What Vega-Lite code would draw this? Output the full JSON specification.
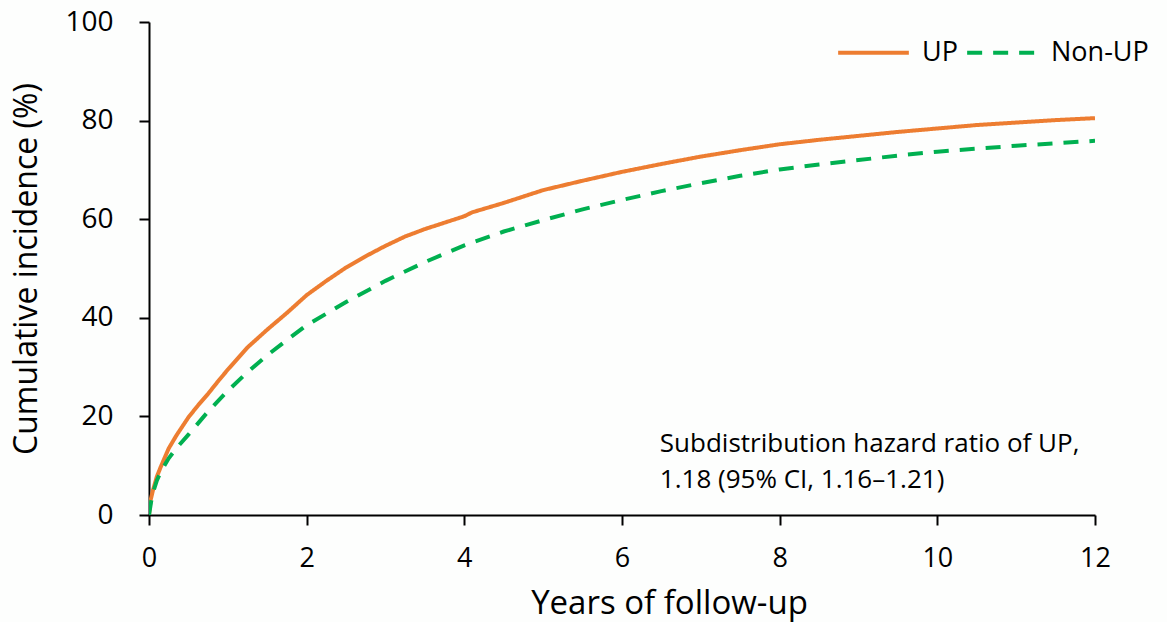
{
  "$schema": "https://vega.github.io/schema/vega-lite/v6.json",
  "width": 946,
  "height": 493,
  "autosize": {"type": "none"},
  "padding": {"left": 149, "top": 22, "right": 72, "bottom": 107},
  "background": "#fdfefd",
  "config": {
    "font": "Open Sans",
    "view": {"stroke": null},
    "axis": {"grid": false, "domainColor": "#000", "tickColor": "#000", "domainWidth": 2, "tickWidth": 2, "tickSize": 10, "labelColor": "#000", "titleColor": "#000", "labelFont": "Open Sans", "titleFont": "Open Sans", "titleFontWeight": "normal"}
  },
  "data": {"values": [
    {"t": 0, "v": 0, "g": "UP"},
    {"t": 0.02, "v": 3, "g": "UP"},
    {"t": 0.05, "v": 5, "g": "UP"},
    {"t": 0.1, "v": 7.8, "g": "UP"},
    {"t": 0.15, "v": 9.8, "g": "UP"},
    {"t": 0.25, "v": 13.5, "g": "UP"},
    {"t": 0.35, "v": 16.2, "g": "UP"},
    {"t": 0.5, "v": 19.8, "g": "UP"},
    {"t": 0.625, "v": 22.3, "g": "UP"},
    {"t": 0.75, "v": 24.6, "g": "UP"},
    {"t": 0.875, "v": 27.1, "g": "UP"},
    {"t": 1, "v": 29.5, "g": "UP"},
    {"t": 1.25, "v": 34, "g": "UP"},
    {"t": 1.5, "v": 37.6, "g": "UP"},
    {"t": 1.75, "v": 41, "g": "UP"},
    {"t": 2, "v": 44.6, "g": "UP"},
    {"t": 2.25, "v": 47.5, "g": "UP"},
    {"t": 2.5, "v": 50.2, "g": "UP"},
    {"t": 2.75, "v": 52.5, "g": "UP"},
    {"t": 3, "v": 54.6, "g": "UP"},
    {"t": 3.25, "v": 56.5, "g": "UP"},
    {"t": 3.5, "v": 58, "g": "UP"},
    {"t": 3.75, "v": 59.3, "g": "UP"},
    {"t": 4, "v": 60.6, "g": "UP"},
    {"t": 4.1, "v": 61.4, "g": "UP"},
    {"t": 4.5, "v": 63.3, "g": "UP"},
    {"t": 4.75, "v": 64.6, "g": "UP"},
    {"t": 5, "v": 65.9, "g": "UP"},
    {"t": 5.5, "v": 67.8, "g": "UP"},
    {"t": 6, "v": 69.6, "g": "UP"},
    {"t": 6.5, "v": 71.2, "g": "UP"},
    {"t": 7, "v": 72.7, "g": "UP"},
    {"t": 7.5, "v": 74, "g": "UP"},
    {"t": 8, "v": 75.2, "g": "UP"},
    {"t": 8.5, "v": 76.1, "g": "UP"},
    {"t": 9, "v": 76.9, "g": "UP"},
    {"t": 9.5, "v": 77.7, "g": "UP"},
    {"t": 10, "v": 78.4, "g": "UP"},
    {"t": 10.5, "v": 79.1, "g": "UP"},
    {"t": 11, "v": 79.6, "g": "UP"},
    {"t": 11.5, "v": 80.1, "g": "UP"},
    {"t": 12, "v": 80.5, "g": "UP"},
    {"t": 0, "v": 0, "g": "Non-UP"},
    {"t": 0.03, "v": 3, "g": "Non-UP"},
    {"t": 0.06, "v": 5, "g": "Non-UP"},
    {"t": 0.1, "v": 7, "g": "Non-UP"},
    {"t": 0.15, "v": 8.8, "g": "Non-UP"},
    {"t": 0.25, "v": 11.5, "g": "Non-UP"},
    {"t": 0.35, "v": 13.6, "g": "Non-UP"},
    {"t": 0.5, "v": 16.3, "g": "Non-UP"},
    {"t": 0.75, "v": 21, "g": "Non-UP"},
    {"t": 1, "v": 25.2, "g": "Non-UP"},
    {"t": 1.25, "v": 29, "g": "Non-UP"},
    {"t": 1.5, "v": 32.4, "g": "Non-UP"},
    {"t": 1.75, "v": 35.5, "g": "Non-UP"},
    {"t": 2, "v": 38.5, "g": "Non-UP"},
    {"t": 2.5, "v": 43.2, "g": "Non-UP"},
    {"t": 3, "v": 47.5, "g": "Non-UP"},
    {"t": 3.5, "v": 51.3, "g": "Non-UP"},
    {"t": 4, "v": 54.7, "g": "Non-UP"},
    {"t": 4.5, "v": 57.5, "g": "Non-UP"},
    {"t": 5, "v": 59.8, "g": "Non-UP"},
    {"t": 5.5, "v": 62, "g": "Non-UP"},
    {"t": 6, "v": 63.9, "g": "Non-UP"},
    {"t": 6.5, "v": 65.7, "g": "Non-UP"},
    {"t": 7, "v": 67.3, "g": "Non-UP"},
    {"t": 7.5, "v": 68.8, "g": "Non-UP"},
    {"t": 8, "v": 70.1, "g": "Non-UP"},
    {"t": 8.5, "v": 71.1, "g": "Non-UP"},
    {"t": 9, "v": 72, "g": "Non-UP"},
    {"t": 9.5, "v": 72.9, "g": "Non-UP"},
    {"t": 10, "v": 73.7, "g": "Non-UP"},
    {"t": 10.5, "v": 74.3, "g": "Non-UP"},
    {"t": 11, "v": 74.9, "g": "Non-UP"},
    {"t": 11.5, "v": 75.4, "g": "Non-UP"},
    {"t": 12, "v": 75.9, "g": "Non-UP"}
  ]},
  "layer": [
    {
      "mark": {"type": "line", "strokeWidth": 4, "strokeCap": "butt", "clip": true},
      "encoding": {
        "x": {"field": "t", "type": "quantitative", "scale": {"domain": [0, 12], "nice": false},
          "axis": {"values": [0, 2, 4, 6, 8, 10, 12], "format": "d", "labelFlush": false, "title": "Years of follow-up", "labelFontSize": 27, "labelPadding": 20, "titleFontSize": 33, "titlePadding": 16, "titleX": 520}},
        "y": {"field": "v", "type": "quantitative", "scale": {"domain": [0, 100], "nice": false},
          "axis": {"values": [0, 20, 40, 60, 80, 100], "format": "d", "labelFlush": false, "title": "Cumulative incidence (%)", "labelFontSize": 28, "labelPadding": 26, "titleFontSize": 32, "titlePadding": 21}},
        "color": {"field": "g", "type": "nominal", "sort": ["UP", "Non-UP"],
          "scale": {"domain": ["UP", "Non-UP"], "range": ["#ED7D31", "#00B050"]},
          "legend": {"title": null, "orient": "none", "legendX": 687, "legendY": -7, "direction": "horizontal", "symbolType": "stroke", "symbolSize": 5000, "symbolStrokeWidth": 4, "labelFontSize": 27, "labelColor": "#000", "labelOffset": 11, "columnPadding": 1, "labelFont": "Open Sans"}},
        "strokeDash": {"field": "g", "type": "nominal", "sort": ["UP", "Non-UP"],
          "scale": {"domain": ["UP", "Non-UP"], "range": [[1, 0], [15, 11]]},
          "legend": {"title": null, "orient": "none", "legendX": 687, "legendY": -7, "direction": "horizontal", "symbolType": "stroke", "symbolSize": 5000, "symbolStrokeWidth": 4, "labelFontSize": 27, "labelColor": "#000", "labelOffset": 11, "columnPadding": 1, "labelFont": "Open Sans"}}
      }
    },
    {
      "data": {"values": [{}]},
      "mark": {"type": "text", "align": "left", "baseline": "alphabetic", "fontSize": 26, "lineHeight": 36, "color": "#000", "font": "Open Sans"},
      "encoding": {
        "x": {"datum": 6.48},
        "y": {"datum": 12.8},
        "text": {"value": ["Subdistribution hazard ratio of UP,", "1.18 (95% CI, 1.16\u20131.21)"]}
      }
    }
  ]
}
